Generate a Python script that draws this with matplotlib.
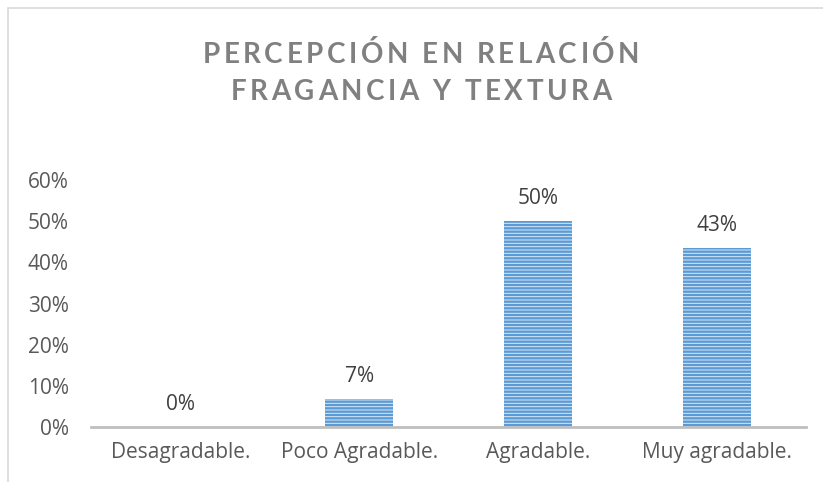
import matplotlib.pyplot as plt
from matplotlib.patches import Rectangle
from matplotlib.ticker import PercentFormatter
from matplotlib.font_manager import FontProperties

# Datos
categorias = ["Desagradable.", "Poco Agradable.", "Agradable.", "Muy agradable."]
valores = [0.0, 0.068, 0.50, 0.434]
etiquetas = ["0%", "7%", "50%", "43%"]
titulo = ["PERCEPCIÓN EN RELACIÓN", "FRAGANCIA Y TEXTURA"]

plt.rcParams['font.family'] = ['Open Sans', 'DejaVu Sans']
plt.rcParams['hatch.linewidth'] = 1.7
plt.rcParams['hatch.color'] = '#5B9BD5'

W, H = 823, 482
fig = plt.figure(figsize=(W / 100, H / 100), dpi=100)

# Marco del área del gráfico (solo se ven los bordes izquierdo y superior)
fig.patches.append(Rectangle((8 / W, -0.2), 1.2, 1 - 8 / H + 0.2,
                             transform=fig.transFigure, fill=False,
                             edgecolor='#D9D9D9', linewidth=1.2))

ax = fig.add_axes([91 / W, 1 - 427 / H, 715 / W, 247 / H])

x = range(len(categorias))
ax.bar(x, valores, width=0.38, color='#DCE8F5', edgecolor='#5B9BD5',
       linewidth=0, hatch='-----')

for xi, v, txt in zip(x, valores, etiquetas):
    ax.text(xi, v + 0.03, txt, ha='center', va='bottom', fontsize=15, color='#404040')

ax.set_xlim(-0.5, len(categorias) - 0.5)
ax.set_ylim(0, 0.6)
ax.set_yticks([0, 0.1, 0.2, 0.3, 0.4, 0.5, 0.6])
ax.yaxis.set_major_formatter(PercentFormatter(1.0, decimals=0))
ax.set_xticks(list(x))
ax.set_xticklabels(categorias)
ax.tick_params(axis='both', length=0, labelsize=15, labelcolor='#595959')
ax.tick_params(axis='x', pad=11)
ax.tick_params(axis='y', pad=16)

for lado in ['top', 'right', 'left']:
    ax.spines[lado].set_visible(False)
ax.spines['bottom'].set_color('#BFBFBF')
ax.spines['bottom'].set_linewidth(2)

# Título con espaciado entre letras: se coloca letra por letra
renderer = fig.canvas.get_renderer()
prop = FontProperties(family=['Lato', 'DejaVu Sans'], weight='bold', size=20)


def ancho(s):
    w, _, _ = renderer.get_text_width_height_descent(s, prop, ismath=False)
    return w


def avance(c):
    return ancho("H" + c + "H") - ancho("HH")


centro_x = 421
ancho_linea1 = 437
avances1 = [avance(c) for c in titulo[0]]
espacio = (ancho_linea1 - sum(avances1)) / (len(titulo[0]) - 1)

for linea, y in zip(titulo, [52, 89]):
    avs = [avance(c) for c in linea]
    total = sum(avs) + espacio * (len(linea) - 1)
    cursor = centro_x - total / 2
    for c, a in zip(linea, avs):
        if c != " ":
            fig.text((cursor + a / 2) / W, 1 - y / H, c, ha='center', va='center_baseline',
                     fontproperties=prop, color='#808080')
        cursor += a + espacio

fig.savefig('out.png', dpi=100)
